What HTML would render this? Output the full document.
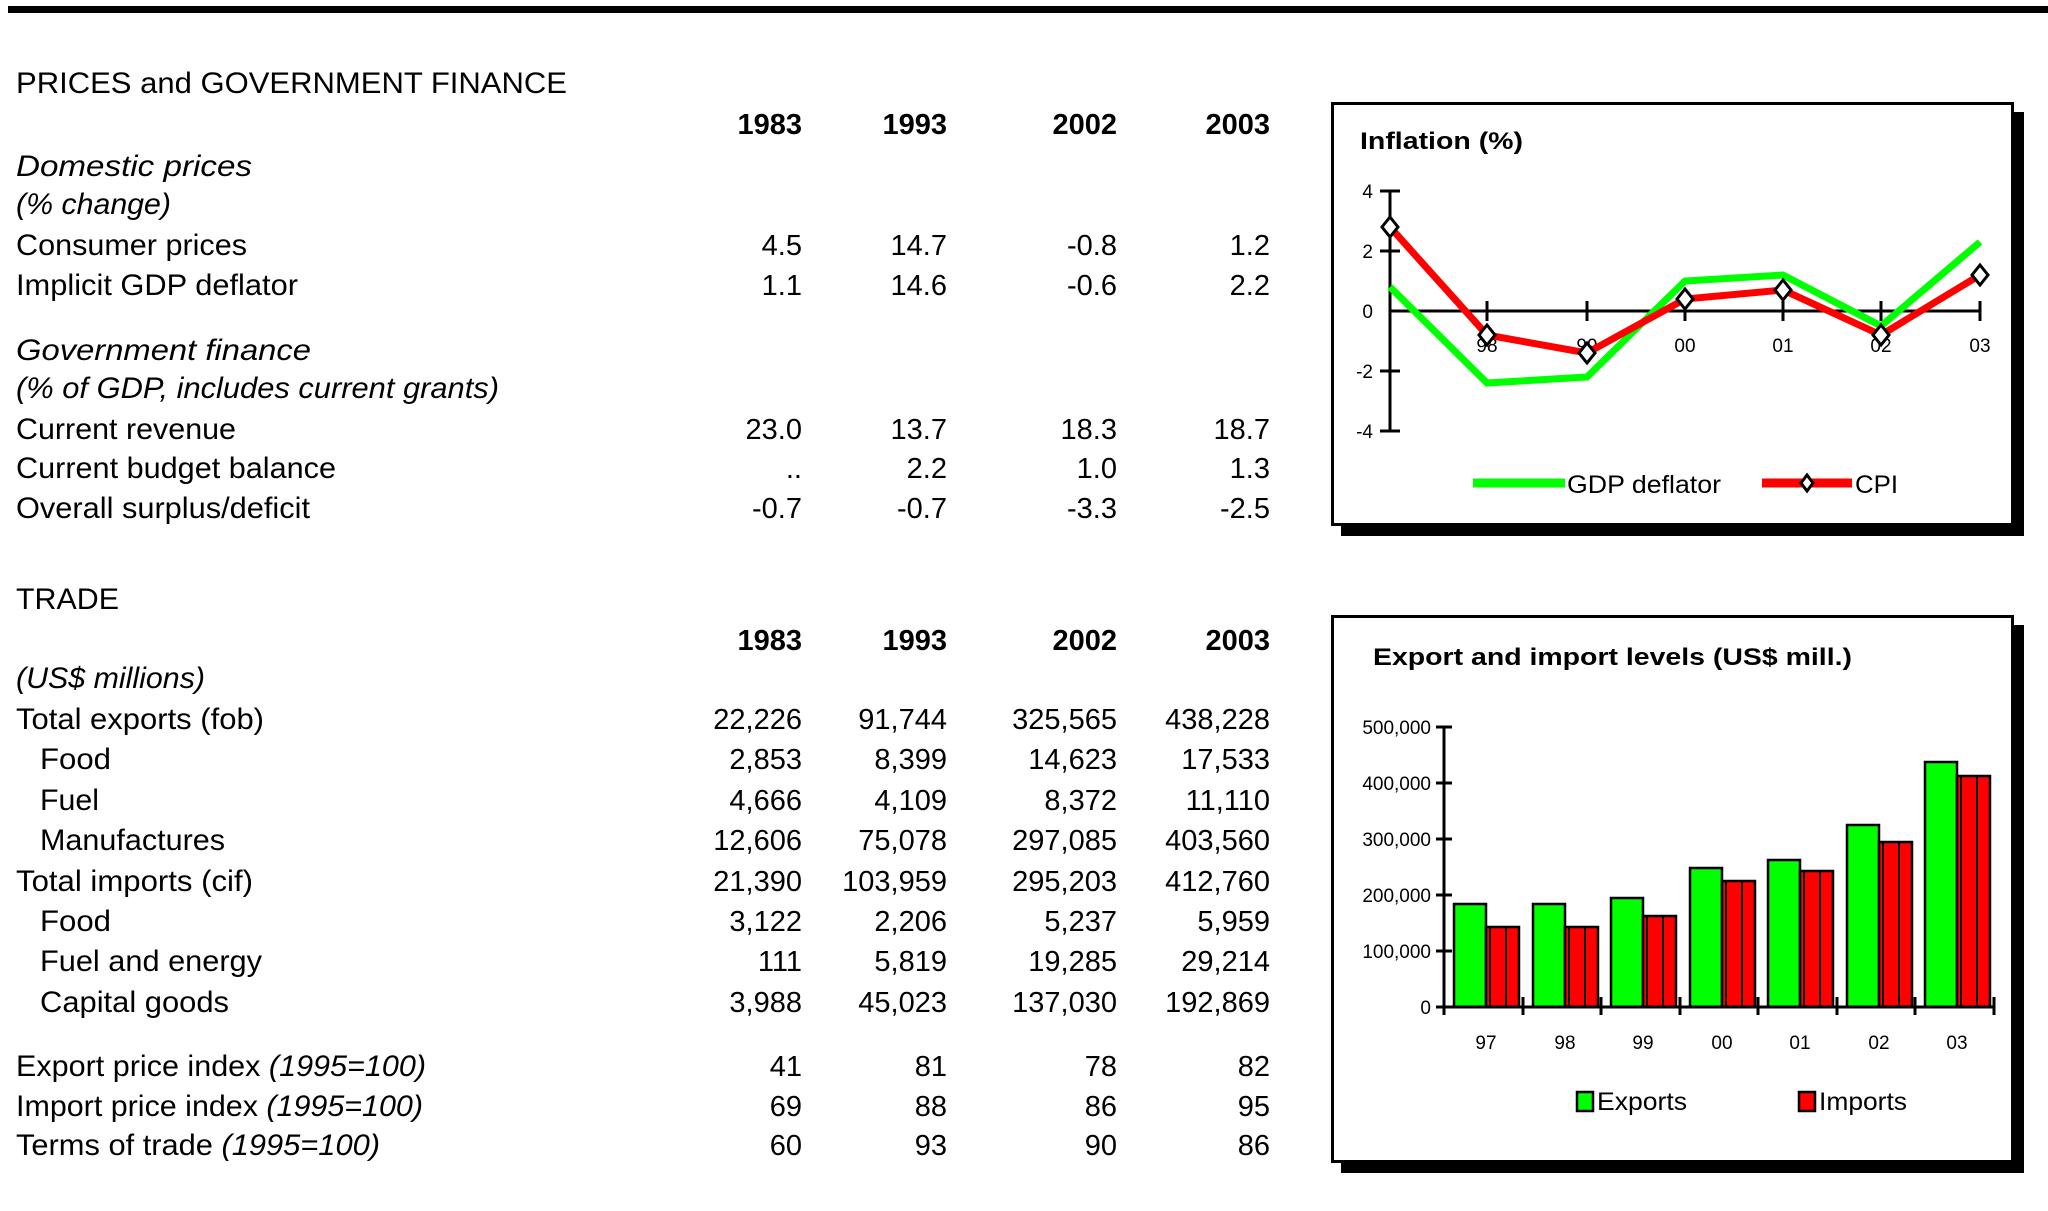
<!DOCTYPE html>
<html><head><meta charset="utf-8"><style>
html,body{margin:0;padding:0;background:#fff;}
svg{display:block;}
text{font-family:"Liberation Sans",Arial,sans-serif;fill:#000;}
.t{font-size:30px;}
.i{font-style:italic;}
.b{font-weight:bold;}
.n{font-size:29px;text-anchor:end;}
.s{font-size:19px;}
</style></head><body>
<svg width="2048" height="1211" viewBox="0 0 2048 1211" xmlns="http://www.w3.org/2000/svg">
<rect x="8" y="6" width="2040" height="7" fill="#000"/>

<text class="t" x="16" y="93" textLength="551" lengthAdjust="spacingAndGlyphs">PRICES and GOVERNMENT FINANCE</text>
<g class="n b"><text x="802" y="134">1983</text><text x="947" y="134">1993</text><text x="1117" y="134">2002</text><text x="1270" y="134">2003</text></g>
<text class="t i" x="16" y="176" textLength="236" lengthAdjust="spacingAndGlyphs">Domestic prices</text>
<text class="t i" x="16" y="214" textLength="155" lengthAdjust="spacingAndGlyphs">(% change)</text>
<text class="t" x="16" y="255" textLength="231" lengthAdjust="spacingAndGlyphs">Consumer prices</text>
<g class="n"><text x="802" y="255">4.5</text><text x="947" y="255">14.7</text><text x="1117" y="255">-0.8</text><text x="1270" y="255">1.2</text></g>
<text class="t" x="16" y="295" textLength="282" lengthAdjust="spacingAndGlyphs">Implicit GDP deflator</text>
<g class="n"><text x="802" y="295">1.1</text><text x="947" y="295">14.6</text><text x="1117" y="295">-0.6</text><text x="1270" y="295">2.2</text></g>
<text class="t i" x="16" y="360" textLength="295" lengthAdjust="spacingAndGlyphs">Government finance</text>
<text class="t i" x="16" y="398" textLength="483" lengthAdjust="spacingAndGlyphs">(% of GDP, includes current grants)</text>
<text class="t" x="16" y="439" textLength="220" lengthAdjust="spacingAndGlyphs">Current revenue</text>
<g class="n"><text x="802" y="439">23.0</text><text x="947" y="439">13.7</text><text x="1117" y="439">18.3</text><text x="1270" y="439">18.7</text></g>
<text class="t" x="16" y="478" textLength="320" lengthAdjust="spacingAndGlyphs">Current budget balance</text>
<g class="n"><text x="802" y="478">..</text><text x="947" y="478">2.2</text><text x="1117" y="478">1.0</text><text x="1270" y="478">1.3</text></g>
<text class="t" x="16" y="518" textLength="294" lengthAdjust="spacingAndGlyphs">Overall surplus/deficit</text>
<g class="n"><text x="802" y="518">-0.7</text><text x="947" y="518">-0.7</text><text x="1117" y="518">-3.3</text><text x="1270" y="518">-2.5</text></g>

<text class="t" x="16" y="609" textLength="103" lengthAdjust="spacingAndGlyphs">TRADE</text>
<g class="n b"><text x="802" y="650">1983</text><text x="947" y="650">1993</text><text x="1117" y="650">2002</text><text x="1270" y="650">2003</text></g>
<text class="t i" x="16" y="688" textLength="189" lengthAdjust="spacingAndGlyphs">(US$ millions)</text>
<text class="t" x="16" y="729" textLength="248" lengthAdjust="spacingAndGlyphs">Total exports (fob)</text>
<g class="n"><text x="802" y="729">22,226</text><text x="947" y="729">91,744</text><text x="1117" y="729">325,565</text><text x="1270" y="729">438,228</text></g>
<text class="t" x="40" y="769" textLength="71" lengthAdjust="spacingAndGlyphs">Food</text>
<g class="n"><text x="802" y="769">2,853</text><text x="947" y="769">8,399</text><text x="1117" y="769">14,623</text><text x="1270" y="769">17,533</text></g>
<text class="t" x="40" y="810" textLength="59" lengthAdjust="spacingAndGlyphs">Fuel</text>
<g class="n"><text x="802" y="810">4,666</text><text x="947" y="810">4,109</text><text x="1117" y="810">8,372</text><text x="1270" y="810">11,110</text></g>
<text class="t" x="40" y="850" textLength="185" lengthAdjust="spacingAndGlyphs">Manufactures</text>
<g class="n"><text x="802" y="850">12,606</text><text x="947" y="850">75,078</text><text x="1117" y="850">297,085</text><text x="1270" y="850">403,560</text></g>
<text class="t" x="16" y="891" textLength="237" lengthAdjust="spacingAndGlyphs">Total imports (cif)</text>
<g class="n"><text x="802" y="891">21,390</text><text x="947" y="891">103,959</text><text x="1117" y="891">295,203</text><text x="1270" y="891">412,760</text></g>
<text class="t" x="40" y="931" textLength="71" lengthAdjust="spacingAndGlyphs">Food</text>
<g class="n"><text x="802" y="931">3,122</text><text x="947" y="931">2,206</text><text x="1117" y="931">5,237</text><text x="1270" y="931">5,959</text></g>
<text class="t" x="40" y="971" textLength="222" lengthAdjust="spacingAndGlyphs">Fuel and energy</text>
<g class="n"><text x="802" y="971">111</text><text x="947" y="971">5,819</text><text x="1117" y="971">19,285</text><text x="1270" y="971">29,214</text></g>
<text class="t" x="40" y="1012" textLength="189" lengthAdjust="spacingAndGlyphs">Capital goods</text>
<g class="n"><text x="802" y="1012">3,988</text><text x="947" y="1012">45,023</text><text x="1117" y="1012">137,030</text><text x="1270" y="1012">192,869</text></g>
<text class="t" x="16" y="1076" textLength="410" lengthAdjust="spacingAndGlyphs">Export price index <tspan class="i">(1995=100)</tspan></text>
<g class="n"><text x="802" y="1076">41</text><text x="947" y="1076">81</text><text x="1117" y="1076">78</text><text x="1270" y="1076">82</text></g>
<text class="t" x="16" y="1116" textLength="407" lengthAdjust="spacingAndGlyphs">Import price index <tspan class="i">(1995=100)</tspan></text>
<g class="n"><text x="802" y="1116">69</text><text x="947" y="1116">88</text><text x="1117" y="1116">86</text><text x="1270" y="1116">95</text></g>
<text class="t" x="16" y="1155" textLength="364" lengthAdjust="spacingAndGlyphs">Terms of trade <tspan class="i">(1995=100)</tspan></text>
<g class="n"><text x="802" y="1155">60</text><text x="947" y="1155">93</text><text x="1117" y="1155">90</text><text x="1270" y="1155">86</text></g>

<!-- Inflation chart -->
<rect x="1341" y="112" width="683" height="424" fill="#000"/>
<rect x="1332.5" y="103.5" width="680" height="421" fill="#fff" stroke="#000" stroke-width="3"/>
<text class="b" x="1360" y="149" font-size="24" textLength="163" lengthAdjust="spacingAndGlyphs">Inflation (%)</text>
<g stroke="#000" stroke-width="3" fill="none">
<line x1="1390" y1="191" x2="1390" y2="431"/>
<line x1="1390" y1="311" x2="1980" y2="311"/>
<line x1="1380" y1="191" x2="1400" y2="191"/><line x1="1380" y1="251" x2="1400" y2="251"/>
<line x1="1380" y1="371" x2="1400" y2="371"/><line x1="1380" y1="431" x2="1400" y2="431"/>
<line x1="1487" y1="301" x2="1487" y2="321"/><line x1="1587" y1="301" x2="1587" y2="321"/>
<line x1="1685" y1="301" x2="1685" y2="321"/><line x1="1783" y1="301" x2="1783" y2="321"/>
<line x1="1881" y1="301" x2="1881" y2="321"/><line x1="1980" y1="301" x2="1980" y2="321"/>
</g>
<g class="s" text-anchor="end"><text x="1373" y="198">4</text><text x="1373" y="258">2</text><text x="1373" y="318">0</text><text x="1373" y="378">-2</text><text x="1373" y="438">-4</text></g>
<g class="s" text-anchor="middle"><text x="1487" y="352">98</text><text x="1587" y="352">99</text><text x="1685" y="352">00</text><text x="1783" y="352">01</text><text x="1881" y="352">02</text><text x="1980" y="352">03</text></g>
<polyline fill="none" stroke="#00ff00" stroke-width="7" points="1390,287 1487,383 1587,377 1685,281 1783,275 1881,326 1980,242"/>
<polyline fill="none" stroke="#ff0000" stroke-width="7" points="1390,227 1487,335 1587,353 1685,299 1783,290 1881,335 1980,275"/>
<g fill="#fff" stroke="#000" stroke-width="3">
<polygon points="1390,217 1398,227 1390,237 1382,227"/><polygon points="1487,325 1495,335 1487,345 1479,335"/>
<polygon points="1587,343 1595,353 1587,363 1579,353"/><polygon points="1685,289 1693,299 1685,309 1677,299"/>
<polygon points="1783,280 1791,290 1783,300 1775,290"/><polygon points="1881,325 1889,335 1881,345 1873,335"/>
<polygon points="1980,265 1988,275 1980,285 1972,275"/>
</g>
<line x1="1473" y1="483" x2="1565" y2="483" stroke="#00ff00" stroke-width="9"/>
<text x="1567" y="493" font-size="25" textLength="154" lengthAdjust="spacingAndGlyphs">GDP deflator</text>
<line x1="1762" y1="483" x2="1852" y2="483" stroke="#ff0000" stroke-width="9"/>
<polygon points="1807,475 1813,483 1807,491 1801,483" fill="#fff" stroke="#000" stroke-width="3"/>
<text x="1855" y="493" font-size="25" textLength="43" lengthAdjust="spacingAndGlyphs">CPI</text>

<!-- Bar chart -->
<rect x="1341" y="625" width="683" height="548" fill="#000"/>
<rect x="1332.5" y="616.5" width="680" height="545" fill="#fff" stroke="#000" stroke-width="3"/>
<text class="b" x="1373" y="665" font-size="24" textLength="479" lengthAdjust="spacingAndGlyphs">Export and import levels (US$ mill.)</text>
<g stroke="#000" stroke-width="2.5">
<rect x="1454" y="904" width="32" height="103" fill="#00ff00"/><rect x="1486" y="927" width="33" height="80" fill="#ff0000"/>
<rect x="1533" y="904" width="32" height="103" fill="#00ff00"/><rect x="1565" y="927" width="33" height="80" fill="#ff0000"/>
<rect x="1611" y="898" width="32" height="109" fill="#00ff00"/><rect x="1643" y="916" width="33" height="91" fill="#ff0000"/>
<rect x="1690" y="868" width="32" height="139" fill="#00ff00"/><rect x="1722" y="881" width="33" height="126" fill="#ff0000"/>
<rect x="1768" y="860" width="32" height="147" fill="#00ff00"/><rect x="1800" y="871" width="33" height="136" fill="#ff0000"/>
<rect x="1847" y="825" width="32" height="182" fill="#00ff00"/><rect x="1879" y="842" width="33" height="165" fill="#ff0000"/>
<rect x="1925" y="762" width="32" height="245" fill="#00ff00"/><rect x="1957" y="776" width="33" height="231" fill="#ff0000"/>
</g>
<g stroke="#000" stroke-width="2">
<line x1="1490" y1="927" x2="1490" y2="1007"/><line x1="1506" y1="927" x2="1506" y2="1007"/>
<line x1="1569" y1="927" x2="1569" y2="1007"/><line x1="1585" y1="927" x2="1585" y2="1007"/>
<line x1="1647" y1="916" x2="1647" y2="1007"/><line x1="1663" y1="916" x2="1663" y2="1007"/>
<line x1="1726" y1="881" x2="1726" y2="1007"/><line x1="1742" y1="881" x2="1742" y2="1007"/>
<line x1="1804" y1="871" x2="1804" y2="1007"/><line x1="1820" y1="871" x2="1820" y2="1007"/>
<line x1="1883" y1="842" x2="1883" y2="1007"/><line x1="1899" y1="842" x2="1899" y2="1007"/>
<line x1="1961" y1="776" x2="1961" y2="1007"/><line x1="1977" y1="776" x2="1977" y2="1007"/>
</g>
<g stroke="#000" stroke-width="3">
<line x1="1444" y1="727" x2="1444" y2="1015"/>
<line x1="1436" y1="1007" x2="1994" y2="1007"/>
<line x1="1436" y1="727" x2="1452" y2="727"/><line x1="1436" y1="783" x2="1452" y2="783"/>
<line x1="1436" y1="839" x2="1452" y2="839"/><line x1="1436" y1="895" x2="1452" y2="895"/>
<line x1="1436" y1="951" x2="1452" y2="951"/>
<line x1="1523" y1="997" x2="1523" y2="1015"/><line x1="1601" y1="997" x2="1601" y2="1015"/>
<line x1="1680" y1="997" x2="1680" y2="1015"/><line x1="1758" y1="997" x2="1758" y2="1015"/>
<line x1="1837" y1="997" x2="1837" y2="1015"/><line x1="1915" y1="997" x2="1915" y2="1015"/>
<line x1="1994" y1="997" x2="1994" y2="1015"/>
</g>
<g class="s" text-anchor="end"><text x="1431" y="734">500,000</text><text x="1431" y="790">400,000</text><text x="1431" y="846">300,000</text><text x="1431" y="902">200,000</text><text x="1431" y="958">100,000</text><text x="1431" y="1014">0</text></g>
<g class="s" text-anchor="middle"><text x="1486" y="1049">97</text><text x="1565" y="1049">98</text><text x="1643" y="1049">99</text><text x="1722" y="1049">00</text><text x="1800" y="1049">01</text><text x="1879" y="1049">02</text><text x="1957" y="1049">03</text></g>
<rect x="1577" y="1092" width="16" height="19" fill="#00ff00" stroke="#000" stroke-width="2.5"/>
<text x="1597" y="1110" font-size="25" textLength="90" lengthAdjust="spacingAndGlyphs">Exports</text>
<rect x="1799" y="1092" width="16" height="19" fill="#ff0000" stroke="#000" stroke-width="2.5"/>
<text x="1819" y="1110" font-size="25" textLength="88" lengthAdjust="spacingAndGlyphs">Imports</text>
</svg>
</body></html>
